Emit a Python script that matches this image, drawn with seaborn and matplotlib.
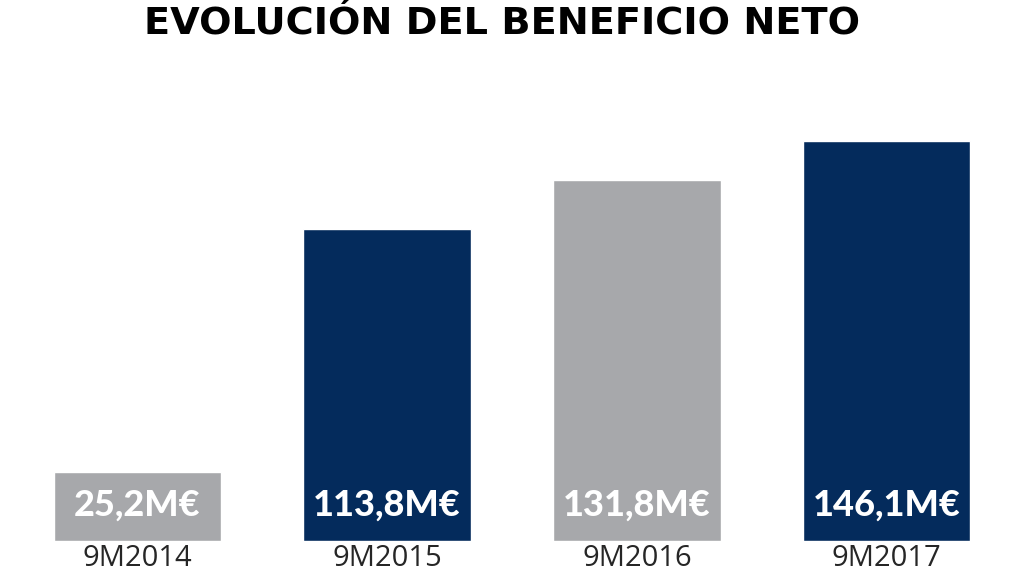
import matplotlib
matplotlib.use('Agg')
import matplotlib.pyplot as plt
import seaborn as sns
import pandas as pd

# datos
periodos = ['9M2014', '9M2015', '9M2016', '9M2017']
beneficio = [25.2, 113.8, 131.8, 146.1]
etiquetas = ['25,2M€', '113,8M€', '131,8M€', '146,1M€']
colores = ['#a7a8ab', '#042b5c', '#a7a8ab', '#042b5c']

df = pd.DataFrame({'periodo': periodos, 'beneficio': beneficio})

sns.set_style('white')
plt.rcParams['font.family'] = ['Open Sans', 'DejaVu Sans']

fig = plt.figure(figsize=(10.24, 5.76), dpi=100)
ax = fig.add_axes([0, 35 / 576, 1, 1 - 35 / 576])

sns.barplot(data=df, x='periodo', y='beneficio', hue='periodo', palette=colores,
            width=0.67, legend=False, saturation=1, ax=ax)

ax.set_xlim(-0.55, 3.55)
ax.set_ylim(0, 197.6)
ax.set_yticks([])
ax.set_xlabel('')
ax.set_ylabel('')
sns.despine(ax=ax, left=True, bottom=True)
ax.tick_params(axis='x', length=0, pad=2, labelsize=21)

# etiquetas de valor dentro de cada barra
for i, txt in enumerate(etiquetas):
    ax.annotate(txt, (i, 0), xytext=(0, 26), textcoords='offset points',
                ha='center', va='center', color='white', fontsize=26, fontweight='black',
                family=['Lato', 'DejaVu Sans'])

# título
fig.text(0.49, 1 - 33 / 576, 'EVOLUCIÓN DEL BENEFICIO NETO', ha='center', va='baseline',
         fontsize=27.5, fontweight='bold', color='black', family=['DejaVu Sans'])

fig.savefig('out.png', dpi=100)
